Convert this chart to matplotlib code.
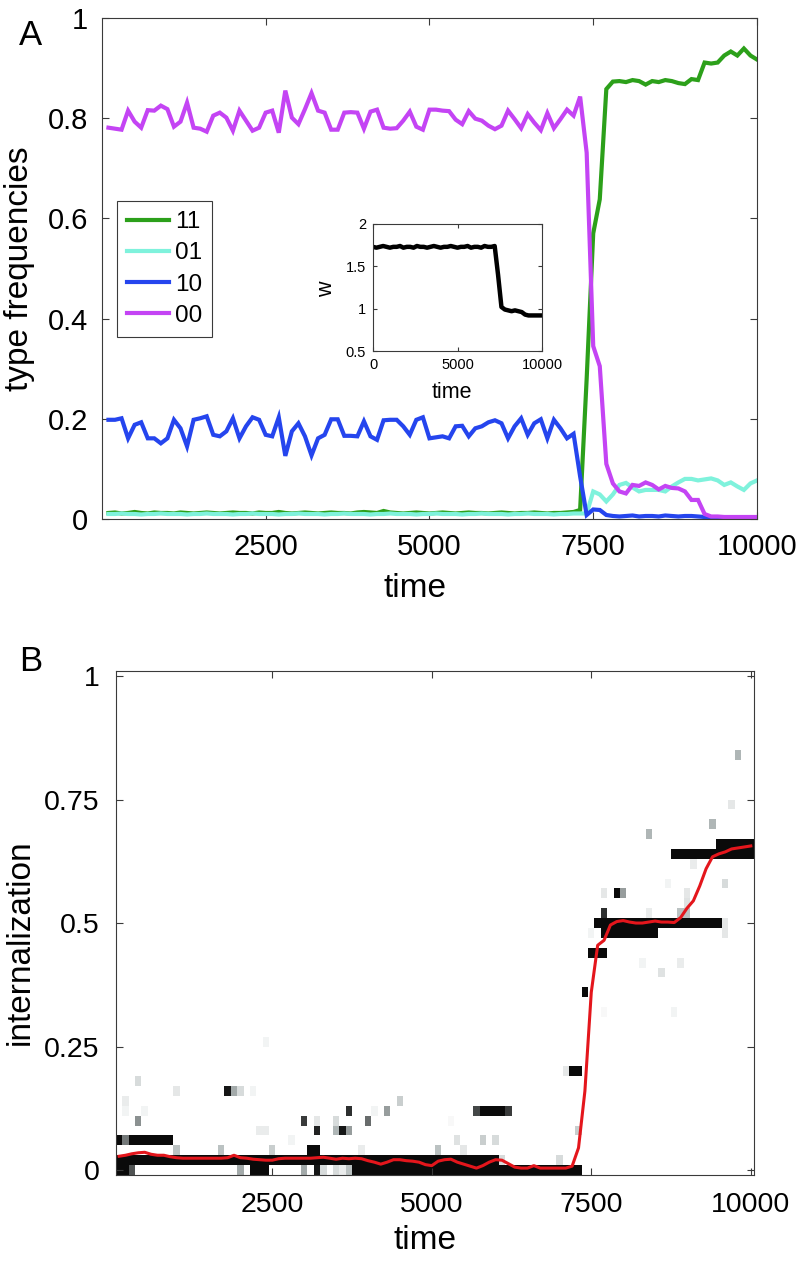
#!/usr/bin/env python3
"""Type frequencies over time (A) and internalization distribution (B)."""

import numpy as np
import matplotlib
matplotlib.use("Agg")
import matplotlib.pyplot as plt
from matplotlib.colors import LinearSegmentedColormap

plt.rcParams["font.family"] = ["Liberation Sans", "DejaVu Sans"]

# ---- panel A: type frequencies, sampled every 100 time steps ----
time = np.arange(100, 10001, 100)

freq_11 = [0.012, 0.013, 0.011, 0.012, 0.014, 0.012, 0.011, 0.013, 0.012, 0.012,
           0.011, 0.013, 0.012, 0.011, 0.012, 0.013, 0.012, 0.011, 0.012, 0.013,
           0.012, 0.012, 0.011, 0.013, 0.012, 0.012, 0.014, 0.012, 0.011, 0.012,
           0.013, 0.012, 0.011, 0.012, 0.013, 0.012, 0.012, 0.011, 0.013, 0.014,
           0.013, 0.012, 0.016, 0.013, 0.012, 0.011, 0.012, 0.013, 0.012, 0.011,
           0.012, 0.013, 0.012, 0.011, 0.012, 0.013, 0.012, 0.012, 0.011, 0.012,
           0.013, 0.012, 0.011, 0.012, 0.012, 0.013, 0.012, 0.011, 0.012, 0.012,
           0.013, 0.014, 0.018, 0.280, 0.570, 0.638, 0.858, 0.873, 0.874, 0.872,
           0.876, 0.874, 0.867, 0.874, 0.872, 0.876, 0.874, 0.870, 0.868, 0.878,
           0.876, 0.911, 0.909, 0.911, 0.925, 0.933, 0.925, 0.939, 0.925, 0.917]

freq_01 = [0.010, 0.010, 0.011, 0.010, 0.010, 0.009, 0.010, 0.010, 0.011, 0.010,
           0.010, 0.010, 0.009, 0.010, 0.010, 0.011, 0.010, 0.010, 0.010, 0.009,
           0.010, 0.010, 0.011, 0.010, 0.010, 0.010, 0.009, 0.010, 0.010, 0.011,
           0.010, 0.010, 0.010, 0.009, 0.010, 0.010, 0.011, 0.010, 0.010, 0.010,
           0.009, 0.010, 0.010, 0.011, 0.010, 0.010, 0.010, 0.009, 0.010, 0.010,
           0.011, 0.010, 0.010, 0.010, 0.009, 0.010, 0.010, 0.011, 0.010, 0.010,
           0.010, 0.009, 0.010, 0.010, 0.011, 0.010, 0.010, 0.010, 0.009, 0.010,
           0.010, 0.011, 0.011, 0.011, 0.055, 0.049, 0.035, 0.049, 0.068, 0.072,
           0.063, 0.055, 0.058, 0.058, 0.058, 0.055, 0.065, 0.073, 0.080, 0.080,
           0.077, 0.079, 0.081, 0.077, 0.068, 0.073, 0.065, 0.058, 0.071, 0.077]

freq_10 = [0.198, 0.198, 0.201, 0.161, 0.188, 0.193, 0.161, 0.161, 0.151, 0.161,
           0.198, 0.181, 0.145, 0.198, 0.201, 0.205, 0.168, 0.165, 0.175, 0.201,
           0.161, 0.185, 0.203, 0.198, 0.168, 0.165, 0.203, 0.126, 0.175, 0.191,
           0.165, 0.127, 0.161, 0.168, 0.199, 0.199, 0.166, 0.166, 0.165, 0.195,
           0.165, 0.158, 0.197, 0.198, 0.198, 0.185, 0.168, 0.198, 0.203, 0.161,
           0.163, 0.165, 0.161, 0.185, 0.186, 0.165, 0.181, 0.185, 0.193, 0.197,
           0.191, 0.161, 0.185, 0.201, 0.168, 0.191, 0.199, 0.161, 0.198, 0.181,
           0.161, 0.170, 0.085, 0.008, 0.019, 0.018, 0.008, 0.006, 0.005, 0.006,
           0.007, 0.005, 0.006, 0.006, 0.005, 0.007, 0.006, 0.005, 0.006, 0.006,
           0.005, 0.004, 0.003, 0.003, 0.003, 0.003, 0.003, 0.003, 0.003, 0.003]

freq_00 = [0.781, 0.779, 0.777, 0.815, 0.793, 0.781, 0.816, 0.815, 0.825, 0.818,
           0.783, 0.793, 0.831, 0.781, 0.779, 0.773, 0.805, 0.811, 0.801, 0.775,
           0.815, 0.795, 0.775, 0.781, 0.811, 0.815, 0.771, 0.855, 0.801, 0.788,
           0.818, 0.850, 0.815, 0.811, 0.777, 0.777, 0.811, 0.812, 0.811, 0.779,
           0.813, 0.817, 0.781, 0.779, 0.780, 0.795, 0.813, 0.783, 0.777, 0.817,
           0.817, 0.815, 0.814, 0.797, 0.788, 0.814, 0.799, 0.795, 0.785, 0.778,
           0.785, 0.815, 0.798, 0.780, 0.808, 0.791, 0.776, 0.810, 0.780, 0.798,
           0.817, 0.805, 0.843, 0.731, 0.345, 0.305, 0.110, 0.071, 0.055, 0.051,
           0.068, 0.066, 0.073, 0.068, 0.059, 0.066, 0.062, 0.061, 0.055, 0.038,
           0.038, 0.010, 0.005, 0.005, 0.004, 0.004, 0.004, 0.004, 0.004, 0.004]

TYPE_COLORS = {
    "11": "#2ca01a",
    "01": "#7ff2dc",
    "10": "#2545ee",
    "00": "#c444f4",
}

# ---- inset: mean w ----
w_time = np.arange(0, 10001, 200)
w_mean = [1.73, 1.72, 1.73, 1.74, 1.73, 1.72, 1.73, 1.73, 1.74, 1.72,
          1.73, 1.73, 1.72, 1.74, 1.73, 1.73, 1.72, 1.73, 1.74, 1.73,
          1.72, 1.73, 1.73, 1.74, 1.73, 1.72, 1.73, 1.73, 1.74, 1.72,
          1.73, 1.73, 1.72, 1.74, 1.73, 1.73, 1.74, 1.40, 1.02, 0.99,
          0.98, 0.97, 0.98, 0.97, 0.96, 0.93, 0.92, 0.92, 0.92, 0.92, 0.92]

# ---- panel B: internalization histogram (cell runs) and mean ----
cell_value = [0.00, 0.00, 0.00, 0.00, 0.00, 0.00, 0.00, 0.00, 0.00, 0.00, 0.00,
              0.02, 0.02, 0.02,
              0.04, 0.04, 0.04, 0.04, 0.04, 0.04, 0.04,
              0.06, 0.06, 0.06, 0.06, 0.06, 0.06, 0.06,
              0.08, 0.08, 0.08, 0.08, 0.08, 0.08,
              0.10, 0.10, 0.10, 0.10, 0.10, 0.10,
              0.12, 0.12, 0.12, 0.12, 0.12, 0.12, 0.12, 0.12,
              0.14, 0.14,
              0.16, 0.16, 0.16, 0.16, 0.16,
              0.18, 0.20, 0.20, 0.26, 0.32, 0.32, 0.36, 0.40, 0.42, 0.42, 0.44,
              0.48, 0.48, 0.48, 0.50, 0.50,
              0.52, 0.52, 0.52, 0.54, 0.56, 0.56, 0.56, 0.56, 0.58, 0.58, 0.62,
              0.64, 0.66, 0.68, 0.70, 0.74, 0.84]
cell_t_start = [100, 300, 2000, 2200, 3000, 3200, 3300, 3500, 3600, 3700, 3800,
                100, 6100, 7000,
                1000, 1700, 2500, 3100, 3900, 5100, 5500,
                100, 200, 300, 2800, 5400, 5800, 6000,
                2300, 3200, 3500, 3600, 3700, 7300,
                400, 3000, 3200, 3500, 4000, 5300,
                200, 500, 3700, 4100, 4300, 5700, 5800, 6200,
                200, 4500,
                1000, 1800, 1900, 2000, 2200,
                400, 7100, 7200, 2400, 7700, 8800, 7400, 8600, 8300, 8900, 7500,
                7500, 7700, 9600, 7600, 9600,
                7700, 8400, 8900, 9000, 7700, 7900, 8000, 9000, 8700, 9600, 9100,
                8800, 9500, 8400, 9400, 9700, 9800]
cell_t_end = [200, 300, 2000, 2400, 3000, 3200, 3300, 3500, 3600, 3700, 7300,
              6000, 6100, 7000,
              1000, 1700, 2500, 3200, 3900, 5100, 5500,
              100, 200, 900, 2800, 5400, 5800, 6000,
              2400, 3200, 3500, 3600, 3700, 7300,
              400, 3000, 3200, 3500, 4000, 5300,
              200, 500, 3700, 4100, 4300, 5700, 6100, 6200,
              200, 4500,
              1000, 1800, 1900, 2000, 2200,
              400, 7100, 7300, 2400, 7700, 8800, 7400, 8600, 8300, 8900, 7700,
              7500, 8500, 9600, 9500, 9600,
              7700, 8400, 9000, 9000, 7700, 7900, 8000, 9000, 8700, 9600, 9100,
              10000, 10000, 8400, 9400, 9700, 9800]
cell_shade = [1.00, 0.70, 0.35, 1.00, 0.35, 0.95, 0.15, 0.15, 0.08, 0.25, 1.00,
              1.00, 0.15, 0.15,
              0.25, 0.25, 0.20, 1.00, 0.08, 0.25, 0.10,
              1.00, 0.55, 1.00, 0.05, 0.12, 0.20, 0.15,
              0.08, 0.90, 0.30, 0.95, 0.40, 0.20,
              0.45, 0.80, 0.10, 0.15, 0.60, 0.03,
              0.05, 0.05, 0.85, 0.05, 0.40, 0.75, 1.00, 0.80,
              0.08, 0.20,
              0.10, 0.95, 0.35, 0.15, 0.05,
              0.15, 0.10, 1.00, 0.05, 0.03, 0.05, 1.00, 0.12, 0.05, 0.08, 1.00,
              0.05, 1.00, 0.10, 1.00, 0.10,
              0.85, 0.08, 0.25, 0.12, 0.10, 1.00, 0.40, 0.10, 0.05, 0.15, 0.08,
              1.00, 1.00, 0.30, 0.30, 0.10, 0.30]

mean_internalization = [
    0.028, 0.030, 0.033, 0.035, 0.036, 0.032, 0.030, 0.030, 0.027, 0.025,
    0.024, 0.024, 0.024, 0.024, 0.024, 0.024, 0.024, 0.025, 0.030, 0.025,
    0.024, 0.022, 0.021, 0.020, 0.020, 0.023, 0.024, 0.024, 0.024, 0.024,
    0.024, 0.025, 0.026, 0.024, 0.022, 0.024, 0.023, 0.024, 0.023, 0.019,
    0.016, 0.012, 0.016, 0.021, 0.021, 0.019, 0.018, 0.016, 0.011, 0.009,
    0.018, 0.021, 0.022, 0.016, 0.012, 0.008, 0.004, 0.009, 0.016, 0.021,
    0.020, 0.013, 0.006, 0.004, 0.004, 0.009, 0.004, 0.004, 0.004, 0.004,
    0.004, 0.008, 0.045, 0.160, 0.360, 0.455, 0.465, 0.496, 0.503, 0.505,
    0.502, 0.500, 0.500, 0.502, 0.504, 0.502, 0.502, 0.501, 0.511, 0.530,
    0.545, 0.575, 0.610, 0.634, 0.640, 0.644, 0.650, 0.652, 0.654, 0.656]

SPINE = "#3a3a3a"


def style_axes(ax, pad, size):
    for s in ax.spines.values():
        s.set_color(SPINE)
        s.set_linewidth(0.8)
    ax.tick_params(direction="in", top=True, right=True, length=5, width=0.8,
                   color=SPINE, pad=pad, labelsize=size)


fig = plt.figure(figsize=(7.96, 12.64), dpi=100)

# ---- panel A ----
ax_a = fig.add_axes([0.128, 0.5894, 0.823, 0.3964])
for key, vals in (("11", freq_11), ("01", freq_01), ("10", freq_10), ("00", freq_00)):
    ax_a.plot(time, vals, color=TYPE_COLORS[key], lw=3, label=key,
              solid_joinstyle="miter")
ax_a.set_xlim(0, 10000)
ax_a.set_ylim(0, 1)
ax_a.set_xticks([2500, 5000, 7500, 10000])
ax_a.set_yticks([0, 0.2, 0.4, 0.6, 0.8, 1])
ax_a.set_yticklabels(["0", "0.2", "0.4", "0.6", "0.8", "1"])
style_axes(ax_a, 10, 21)
ax_a.set_xlabel("time", fontsize=24)
ax_a.set_ylabel("type frequencies", fontsize=24)
ax_a.xaxis.set_label_coords(0.478, -0.108)
ax_a.yaxis.set_label_coords(-0.102, 0.5)
leg = ax_a.legend(loc="upper left", bbox_to_anchor=(0.0229, 0.634), borderaxespad=0,
                  fontsize=17.5, handlelength=1.75, handletextpad=0.25,
                  labelspacing=0.38, borderpad=0.4, fancybox=False, framealpha=1)
leg.get_frame().set_edgecolor(SPINE)
leg.get_frame().set_linewidth(0.8)

# inset
ax_in = fig.add_axes([0.4686, 0.7223, 0.2123, 0.1005])
ax_in.plot(w_time, w_mean, color="black", lw=3.2)
ax_in.set_xlim(0, 10000)
ax_in.set_ylim(0.5, 2)
ax_in.set_xticks([0, 5000, 10000])
ax_in.set_yticks([0.5, 1, 1.5, 2])
ax_in.set_yticklabels(["0.5", "1", "1.5", "2"])
style_axes(ax_in, 5, 10.5)
ax_in.tick_params(length=3)
ax_in.set_xlabel("time", fontsize=15.5)
ax_in.set_ylabel("w", fontsize=15.5)
ax_in.xaxis.set_label_coords(0.468, -0.24)
ax_in.yaxis.set_label_coords(-0.21, 0.49)

# ---- panel B ----
ax_b = fig.add_axes([0.1457, 0.0704, 0.8015, 0.3987])
row_centers = np.round(np.arange(0, 1.0001, 0.02), 2)
grid = np.zeros((len(row_centers), len(time)))
for v, t0, t1, shade in zip(cell_value, cell_t_start, cell_t_end, cell_shade):
    r = int(round(v / 0.02))
    grid[r, t0 // 100 - 1:t1 // 100] = shade
t_edges = np.concatenate([time - 50, [time[-1] + 50]])
y_edges = np.concatenate([row_centers - 0.01, [row_centers[-1] + 0.01]])
cmap = LinearSegmentedColormap.from_list(
    "wk", [(0.0, "#ffffff"), (0.3, "#aeb6b6"), (1.0, "#0a0a0a")])
ax_b.pcolormesh(t_edges, y_edges, grid, cmap=cmap, vmin=0, vmax=1, shading="flat")
ax_b.plot(time, mean_internalization, color="#e4161c", lw=2.2)
ax_b.set_xlim(50, 10050)
ax_b.set_ylim(-0.01, 1.01)
ax_b.set_xticks([2500, 5000, 7500, 10000])
ax_b.set_yticks([0, 0.25, 0.5, 0.75, 1])
ax_b.set_yticklabels(["0", "0.25", "0.5", "0.75", "1"])
style_axes(ax_b, 12, 20.5)
ax_b.set_xlabel("time", fontsize=24)
ax_b.set_ylabel("internalization", fontsize=24)
ax_b.xaxis.set_label_coords(0.485, -0.1)
ax_b.yaxis.set_label_coords(-0.125, 0.462)

fig.text(0.038, 0.972, "A", fontsize=25, ha="center", va="center")
fig.text(0.038, 0.477, "B", fontsize=25, ha="center", va="center")

fig.savefig("out.png", dpi=100)
